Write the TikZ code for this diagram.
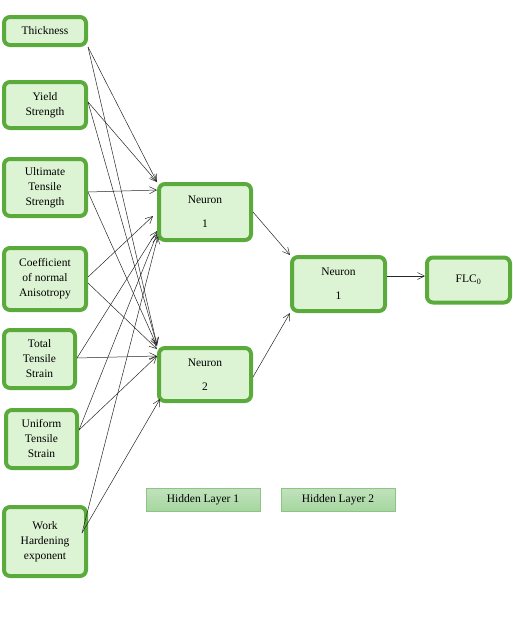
\documentclass[tikz,border=0pt]{standalone}
\usepackage{fontspec}
\setmainfont{Liberation Serif}
\usetikzlibrary{arrows.meta}
\definecolor{gborder}{HTML}{5AAA3C}
\definecolor{gfill}{HTML}{DDF4D4}
\definecolor{lblfill}{HTML}{A6D6A0}
\definecolor{lblborder}{HTML}{8DC486}
\begin{document}
\begin{tikzpicture}[x=1pt,y=-1pt,
  inbox/.style={draw=gborder,fill=gfill,line width=4pt,rounded corners=6pt,
    align=center,inner sep=0pt,font=\fontsize{11.5}{15}\selectfont},
  lbl/.style={draw=lblborder,top color=lblfill!70!white,bottom color=lblfill,
    line width=0.6pt,inner sep=0pt,font=\fontsize{11.5}{13}\selectfont},
  conn/.style={-{Straight Barb[length=7pt,width=7pt]},line width=0.5pt,draw=black!85}]
\useasboundingbox (0,0) rectangle (513,619);
% inputs
\node[inbox,minimum width=82pt,minimum height=28pt] (i1) at (45,31) {Thickness};
\node[inbox,minimum width=82pt,minimum height=46pt] (i2) at (45,105) {Yield\\Strength};
\node[inbox,minimum width=82pt,minimum height=57pt] (i3) at (45,187.5) {Ultimate\\Tensile\\Strength};
\node[inbox,minimum width=82pt,minimum height=62pt] (i4) at (45,279) {Coefficient\\of normal\\Anisotropy};
\node[inbox,minimum width=71pt,minimum height=58pt] (i5) at (39.5,359) {Total\\Tensile\\Strain};
\node[inbox,minimum width=71pt,minimum height=58pt] (i6) at (41.5,439) {Uniform\\Tensile\\Strain};
\node[inbox,minimum width=82pt,minimum height=69pt] (i7) at (45,541.5) {Work\\Hardening\\exponent};
% hidden layers
\node[inbox,minimum width=92pt,minimum height=56pt] (h1) at (205,212) {Neuron\\[9pt]1};
\node[inbox,minimum width=92pt,minimum height=53pt] (h2) at (205,374.5) {Neuron\\[9pt]2};
\node[inbox,minimum width=93pt,minimum height=54pt] (g1) at (338.5,284) {Neuron\\[9pt]1};
\node[inbox,minimum width=83pt,minimum height=45pt] (o) at (468.5,280) {FLC\textsubscript{0}};
% labels
\node[lbl,minimum width=114pt,minimum height=23pt] (l1) at (203,499.5) {Hidden Layer 1};
\node[lbl,minimum width=114pt,minimum height=23pt] (l2) at (338,499.5) {Hidden Layer 2};
% connectors to h1
\draw[conn] (i1.south east) -- (h1.north west);
\draw[conn] ([yshift=3pt]i2.east) -- (h1.north west);
\draw[conn] ([yshift=-4.5pt]i3.east) -- ([yshift=-8pt]h1.north west);
\draw[conn] ([yshift=2pt]i4.east) -- ([xshift=-4pt,yshift=-34pt]h1.north west);
\draw[conn] ([yshift=1pt]i5.east) -- ([yshift=-49pt]h1.north west);
\draw[conn] ([yshift=9pt]i6.east) -- ([yshift=-52pt]h1.north west);
\draw[conn] ([xshift=-6pt,yshift=8.5pt]i7.east) -- ([xshift=1pt,yshift=-54pt]h1.north west);
% connectors to h2
\draw[conn] (i1.south east) -- ([yshift=1pt]h2.north west);
\draw[conn] ([yshift=3pt]i2.east) -- ([yshift=1pt]h2.north west);
\draw[conn] ([yshift=-4.5pt]i3.east) -- (h2.north west);
\draw[conn] ([yshift=-4pt]i4.east) -- ([yshift=-3pt]h2.north west);
\draw[conn] ([yshift=1pt]i5.east) -- ([yshift=-10pt]h2.north west);
\draw[conn] ([yshift=9pt]i6.east) -- ([yshift=-10pt]h2.north west);
\draw[conn] ([xshift=-6pt,yshift=8.5pt]i7.east) -- ([xshift=3pt,yshift=4pt]h2.south west);
% to layer 2
\draw[conn] (h1.east) -- (g1.north west);
\draw[conn] ([yshift=-2.5pt]h2.east) -- (g1.south west);
\draw[conn] ([yshift=8pt]g1.east) -- ([yshift=8pt]g1.east -| o.west);
\end{tikzpicture}
\end{document}
